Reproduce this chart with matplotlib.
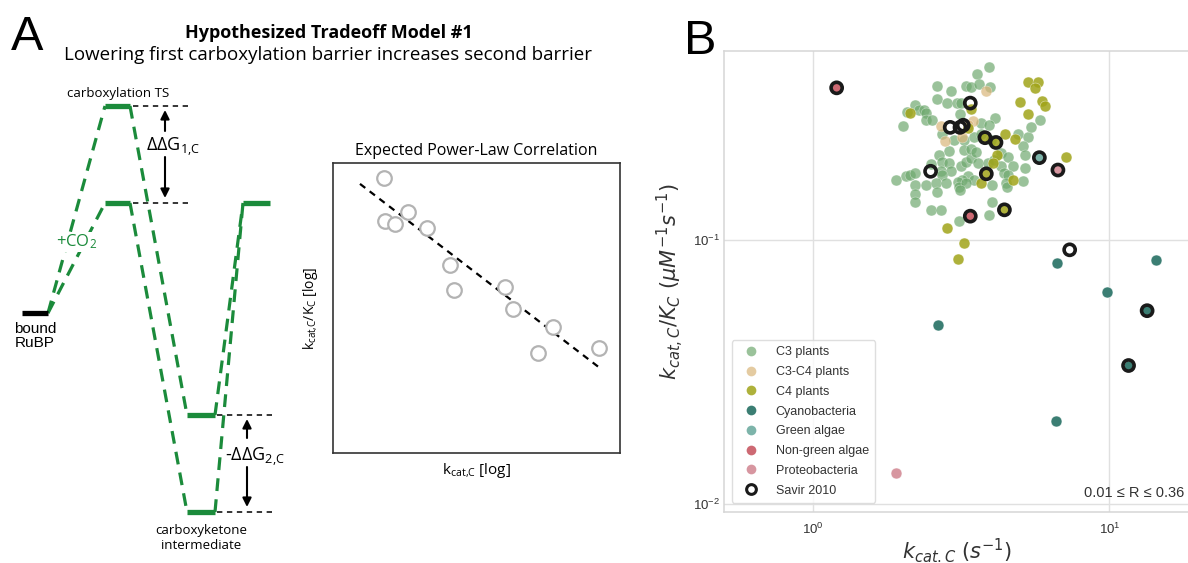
import matplotlib
matplotlib.use('Agg')
import matplotlib.pyplot as plt
from matplotlib.lines import Line2D

# ---------------- panel A: schematic free-energy diagram ----------------
# each state: horizontal level from x0 to x1 at free energy G (drawing units)
state_names = ['bound RuBP', 'carboxylation TS (high)', 'carboxylation TS (low)',
               'carboxyketone (high)', 'carboxyketone (low)', 'second TS']
state_x0 = [22, 105, 105, 187, 187, 243]
state_x1 = [48, 130, 130, 215, 215, 270]
state_G = [250, 457, 360, 148, 51, 360]
links = [(0, 1), (0, 2), (1, 3), (2, 4), (3, 5), (4, 5)]

# inset: expected power-law correlation (axes fraction, log-log schematic)
inset_x = [0.178, 0.181, 0.216, 0.261, 0.328, 0.408, 0.422, 0.599, 0.627, 0.767, 0.714, 0.927]
inset_y = [0.948, 0.800, 0.790, 0.831, 0.776, 0.648, 0.562, 0.572, 0.497, 0.434, 0.345, 0.362]
fit_x = [0.094, 0.930]
fit_y = [0.928, 0.293]

# ---------------- panel B: kcat,C vs kcat,C/KC ----------------
c3_kcat = [3.93, 3.56, 2.61, 2.91, 3.29, 3.42, 3.63, 3.94, 2.61, 2.82, 3.05, 3.15, 2.21, 2.08,
           2.28, 2.37, 2.41, 3.13, 3.68, 4.12, 3.93, 2.41, 2.51, 2.01, 2.73, 2.99, 3.23, 3.49,
           3.68, 3.98, 4.30, 4.54, 4.90, 5.30, 5.44, 5.85, 5.12, 5.20, 2.87, 2.66, 2.73, 2.87,
           2.49, 2.70, 2.91, 3.15, 3.27, 3.41, 3.59, 3.88, 4.08, 4.30, 4.71, 5.20, 4.42, 4.54,
           3.32, 3.19, 3.07, 3.49, 2.73, 1.91, 2.06, 2.12, 2.21, 2.21, 2.41, 2.59, 2.80, 3.11,
           3.29, 4.01, 4.48, 5.10, 4.51, 2.21, 2.21, 2.61, 3.13, 2.49, 2.71, 4.01, 3.93, 3.11,
           3.23, 3.41, 3.54]
c3_eff = [0.451, 0.426, 0.384, 0.368, 0.384, 0.379, 0.390, 0.381, 0.342, 0.330, 0.331, 0.331,
          0.324, 0.306, 0.310, 0.310, 0.303, 0.300, 0.278, 0.290, 0.273, 0.285, 0.285, 0.270,
          0.252, 0.239, 0.239, 0.246, 0.253, 0.239, 0.213, 0.207, 0.252, 0.246, 0.267, 0.285,
          0.226, 0.210, 0.217, 0.210, 0.198, 0.195, 0.194, 0.183, 0.182, 0.190, 0.198, 0.204,
          0.195, 0.195, 0.201, 0.190, 0.191, 0.188, 0.179, 0.176, 0.174, 0.169, 0.166, 0.169,
          0.176, 0.168, 0.174, 0.176, 0.180, 0.162, 0.162, 0.164, 0.164, 0.159, 0.164, 0.161,
          0.164, 0.167, 0.158, 0.149, 0.139, 0.152, 0.155, 0.130, 0.130, 0.139, 0.124, 0.118,
          0.219, 0.222, 0.215]

c3c4_kcat = [3.83, 2.70, 3.45, 3.19, 2.78, 3.32]
c3c4_eff = [0.367, 0.270, 0.282, 0.246, 0.237, 0.273]

c4_kcat = [5.30, 5.73, 5.61, 4.99, 5.91, 6.04, 5.30, 2.12, 3.42, 4.45, 4.81, 4.17, 4.05, 7.11,
           4.71, 3.68, 2.82, 3.32, 3.22, 3.08, 3.80, 4.14, 3.84, 4.42]
c4_eff = [0.395, 0.397, 0.377, 0.334, 0.336, 0.323, 0.299, 0.302, 0.313, 0.253, 0.241, 0.210,
          0.195, 0.207, 0.169, 0.164, 0.111, 0.265, 0.0975, 0.0847, 0.244, 0.234, 0.178, 0.130]

cyano_kcat = [6.63, 14.4, 9.84, 13.4, 11.6, 2.63, 6.61]
cyano_eff = [0.0816, 0.0840, 0.0637, 0.0539, 0.0334, 0.0477, 0.0205]

green_algae_kcat = [5.80]
green_algae_eff = [0.205]

nongreen_kcat = [1.20, 3.39]
nongreen_eff = [0.377, 0.123]

proteo_kcat = [6.70, 1.91]
proteo_eff = [0.184, 0.0131]

savir_kcat = [1.20, 3.39, 2.90, 3.13, 3.21, 3.80, 4.14, 2.49, 3.84, 5.80, 6.70, 3.39, 4.42,
              7.34, 13.4, 11.6]
savir_eff = [0.377, 0.330, 0.267, 0.267, 0.272, 0.244, 0.234, 0.182, 0.178, 0.205, 0.184,
             0.123, 0.130, 0.0917, 0.0539, 0.0334]

groups = [
    ('C3 plants', c3_kcat, c3_eff, '#6fa96f', 0.7),
    ('C3-C4 plants', c3c4_kcat, c3c4_eff, '#d9b57a', 0.7),
    ('C4 plants', c4_kcat, c4_eff, '#a0a418', 0.85),
    ('Cyanobacteria', cyano_kcat, cyano_eff, '#3b7e73', 1.0),
    ('Green algae', green_algae_kcat, green_algae_eff, '#7db4aa', 1.0),
    ('Non-green algae', nongreen_kcat, nongreen_eff, '#cd6973', 1.0),
    ('Proteobacteria', proteo_kcat, proteo_eff, '#d796a0', 1.0),
]

green = '#1b8b3b'
sans = 'Open Sans'

fig = plt.figure(figsize=(11.88, 5.63), dpi=100)

# ---------------- panel A ----------------
axA = fig.add_axes([0, 0, 620 / 1188, 1])
axA.set_xlim(0, 620)
axA.set_ylim(0, 563)
axA.axis('off')

for a, b in links:
    axA.plot([state_x1[a], state_x0[b]], [state_G[a], state_G[b]], color=green, lw=2.3,
             ls=(0, (4, 2.6)), dash_capstyle='butt')
for i in range(len(state_names)):
    col = 'black' if i == 0 else green
    axA.plot([state_x0[i], state_x1[i]], [state_G[i], state_G[i]], color=col, lw=3.8,
             solid_capstyle='butt')

for i in [1, 2]:
    axA.plot([state_x1[i] + 3, 190], [state_G[i], state_G[i]], color='k', lw=1.1, ls=(0, (3.5, 3)))
for i in [3, 4]:
    axA.plot([state_x1[i] + 2, 272], [state_G[i], state_G[i]], color='k', lw=1.1, ls=(0, (3.5, 3)))

arr = dict(arrowstyle='-|>', color='k', lw=1.5, mutation_scale=13, shrinkA=0, shrinkB=0)
axA.annotate('', xy=(165, state_G[1] - 4), xytext=(165, state_G[1] - 25), arrowprops=arr)
axA.annotate('', xy=(165, state_G[2] + 5), xytext=(165, state_G[2] + 46), arrowprops=arr)
axA.annotate('', xy=(247, state_G[3] - 4), xytext=(247, state_G[3] - 23), arrowprops=arr)
axA.annotate('', xy=(247, state_G[4] + 5), xytext=(247, state_G[4] + 45), arrowprops=arr)

axA.text(173, 416, r'$\mathregular{ΔΔG_{1{,}C}}$', family=sans, fontsize=13, ha='center', va='center')
axA.text(255, 106, r'-$\mathregular{ΔΔG_{2{,}C}}$', family=sans, fontsize=13, ha='center', va='center')
axA.text(77, 321, r'$\mathregular{+CO_2}$', family=sans, fontsize=12, color=green, ha='center',
         va='center', bbox=dict(facecolor='white', edgecolor='none', pad=0.5))
axA.text(118, 469, 'carboxylation TS', family=sans, fontsize=9.5, ha='center', va='center')
axA.text(201, 25, 'carboxyketone\nintermediate', family=sans, fontsize=9.5, ha='center',
         va='center', linespacing=1.15, multialignment='center')
axA.text(35, 227, 'bound\nRuBP', family='Liberation Sans', fontsize=11, ha='center',
         va='center', linespacing=1.0, multialignment='center')

axA.text(27, 525, 'A', family='Liberation Sans', fontsize=35, ha='center', va='center')
axA.text(329, 530, 'Hypothesized Tradeoff Model #1', family=sans, fontsize=13,
         fontweight='bold', ha='center', va='center')
axA.text(328, 508, 'Lowering first carboxylation barrier increases second barrier',
         family=sans, fontsize=13.5, ha='center', va='center')

# inset
axI = fig.add_axes([333 / 1188, 110 / 563, 287 / 1188, 290 / 563])
axI.set_xlim(0, 1)
axI.set_ylim(0, 1)
axI.set_xticks([])
axI.set_yticks([])
for s in axI.spines.values():
    s.set_color('#333333')
    s.set_linewidth(1.2)
axI.plot(fit_x, fit_y, color='k', lw=1.6, ls=(0, (3, 2.5)))
axI.scatter(inset_x, inset_y, s=110, facecolor='white', edgecolor='#b3b3b3', linewidth=1.6, zorder=3)
axI.set_title('Expected Power-Law Correlation', family=sans, fontsize=11.5, pad=6)
axI.set_xlabel(r'$\mathregular{k_{cat{,}C}}$ [log]', family=sans, fontsize=11, labelpad=6)
axI.set_ylabel(r'$\mathregular{k_{cat{,}C}/K_C}$ [log]', family=sans, fontsize=10, labelpad=9)

# ---------------- panel B ----------------
axB = fig.add_axes([724 / 1188, 51 / 563, 466 / 1188, 461 / 563])
axB.set_xscale('log')
axB.set_yscale('log')
axB.set_xlim(0.5, 18.7)
axB.set_ylim(0.0093, 0.52)
axB.grid(True, which='major', color='#e0e0e0', lw=1)
axB.set_axisbelow(True)
for s in axB.spines.values():
    s.set_color('#d6d6d6')
    s.set_linewidth(1.1)
axB.tick_params(which='both', length=0, labelsize=9.5, labelcolor='#333333')
axB.tick_params(axis='y', pad=3)
axB.tick_params(axis='x', pad=7)
axB.minorticks_off()
for lab in axB.get_xticklabels() + axB.get_yticklabels():
    lab.set_family('Liberation Sans')

handles = []
for name, xs, ys, col, al in groups:
    axB.scatter(xs, ys, s=62, color=col, alpha=al, edgecolor='white', linewidth=0.3, zorder=2)
    handles.append(Line2D([], [], ls='', marker='o', markersize=7, color=col, alpha=al,
                          markeredgecolor='none', label=name))
axB.scatter(savir_kcat, savir_eff, s=64, facecolor='none', edgecolor='#1a1a1a', linewidth=2.6, zorder=3)
axB.scatter([7.34], [0.0917], s=30, color='white', zorder=2.5)
handles.append(Line2D([], [], ls='', marker='o', markersize=7, markerfacecolor='white',
                      markeredgecolor='#1a1a1a', markeredgewidth=2.2, label='Savir 2010'))

leg = axB.legend(handles=handles, loc='lower left', bbox_to_anchor=(0.017, 0.02),
                 borderaxespad=0, prop={'family': 'Liberation Sans', 'size': 9},
                 labelspacing=0.62, handletextpad=1.0, borderpad=0.5, frameon=True)
leg.get_frame().set_edgecolor('#d6d6d6')
for t in leg.get_texts():
    t.set_color('#333333')

axB.text(0.987, 0.033, '0.01 ≤ R ≤ 0.36', transform=axB.transAxes, ha='right', va='baseline',
         family='Liberation Sans', fontsize=10.5, color='#333333')
axB.set_xlabel(r'$k_{cat.C}$ $(s^{-1})$', fontsize=15, color='#333333')
axB.set_ylabel(r'$k_{cat,C}/K_C$ $(\mu M^{-1}s^{-1})$', fontsize=15, color='#333333')
axB.xaxis.set_label_coords(0.5, -0.052)
axB.yaxis.set_label_coords(-0.082, 0.5)

fig.text(700 / 1188, 1 - 42 / 563, 'B', family='Liberation Sans', fontsize=35, ha='center', va='center')

fig.savefig('out.png', dpi=100)
